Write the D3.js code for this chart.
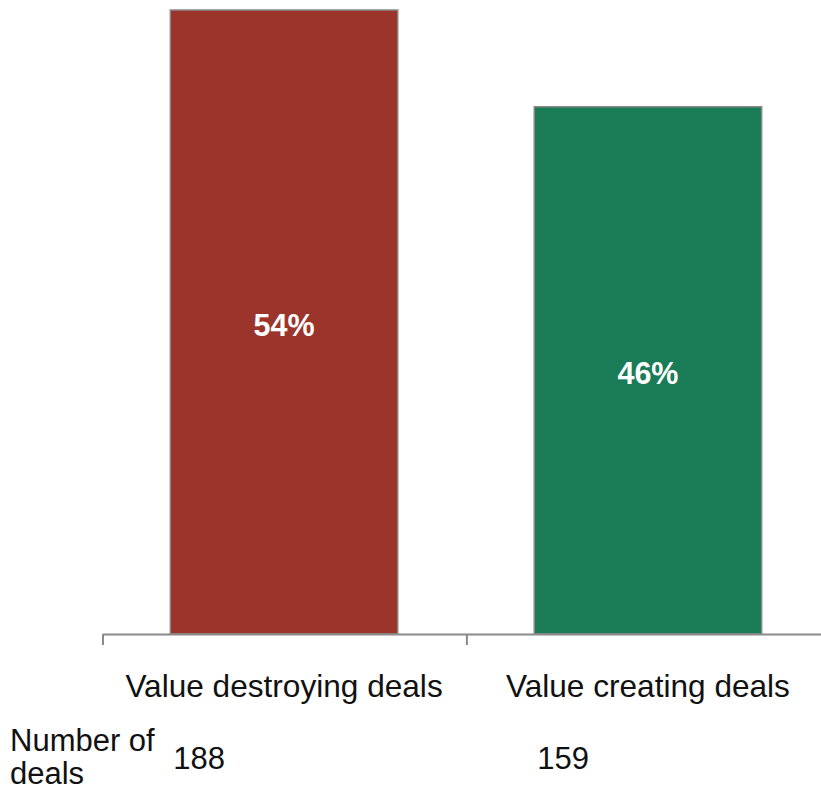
<!DOCTYPE html>
<html>
<head>
<meta charset="utf-8">
<script src="https://cdn.jsdelivr.net/npm/d3@7"></script>
<style>
  html, body { margin: 0; padding: 0; background: #fff; }
  svg { display: block; font-family: "Liberation Sans", Arial, sans-serif; }
</style>
</head>
<body>
<svg id="chart" width="821" height="791"></svg>
<script>
// Deal outcomes: share of deals (%) and deal counts per category
const categories = ["Value destroying deals", "Value creating deals"];
const shares = [54.2, 45.8];
const dealCounts = [188, 159];
const barColors = ["#9b342b", "#1a7b57"];
const rowLabel = ["Number of", "deals"];

const svg = d3.select("#chart");
const axisY = 634;
const topY = 10;

const x = d3.scaleBand()
  .domain(categories)
  .range([103, 829])
  .paddingInner(0.375)
  .paddingOuter(0.185);

const y = d3.scaleLinear()
  .domain([0, d3.max(shares)])
  .range([axisY, topY]);

const data = categories.map((c, i) => ({
  cat: c, share: shares[i], count: dealCounts[i], color: barColors[i]
}));

// Bars
svg.append("g").selectAll("rect")
  .data(data)
  .join("rect")
  .attr("x", d => x(d.cat))
  .attr("y", d => y(d.share))
  .attr("width", x.bandwidth())
  .attr("height", d => y(0) - y(d.share))
  .attr("fill", d => d.color)
  .attr("stroke", "#8a8a8a")
  .attr("stroke-width", 1.5);

// Category axis: baseline with ticks at band boundaries
const step = x.step();
const start = x.range()[0];
const axis = svg.append("g").attr("stroke", "#8a8a8a").attr("stroke-width", 2);
axis.append("line")
  .attr("x1", start).attr("x2", x.range()[1])
  .attr("y1", axisY + 0.5).attr("y2", axisY + 0.5);
axis.selectAll("line.tick")
  .data(d3.range(categories.length + 1))
  .join("line")
  .attr("class", "tick")
  .attr("x1", i => start + i * step).attr("x2", i => start + i * step)
  .attr("y1", axisY).attr("y2", axisY + 11);

// Category labels
svg.append("g").selectAll("text")
  .data(data)
  .join("text")
  .attr("x", d => x(d.cat) + x.bandwidth() / 2)
  .attr("y", 697)
  .attr("text-anchor", "middle")
  .attr("font-size", 31.6)
  .attr("fill", "#111")
  .text(d => d.cat);

// Percentage labels inside bars
const fmt = d3.format(".0f");
svg.append("g").selectAll("text")
  .data(data)
  .join("text")
  .attr("x", d => x(d.cat) + x.bandwidth() / 2)
  .attr("y", d => (y(d.share) + y(0)) / 2 + 14)
  .attr("text-anchor", "middle")
  .attr("font-size", 30.5)
  .attr("font-weight", "bold")
  .attr("fill", "#fff")
  .text(d => fmt(d.share) + "%");

// Row: number of deals
const row = svg.append("text")
  .attr("x", 10)
  .attr("font-size", 31)
  .attr("fill", "#111");
row.selectAll("tspan")
  .data(rowLabel)
  .join("tspan")
  .attr("x", 10)
  .attr("y", (d, i) => 751 + i * 33)
  .text(d => d);

svg.append("g").selectAll("text")
  .data(data)
  .join("text")
  .attr("x", d => x(d.cat) + 3)
  .attr("y", 769)
  .attr("font-size", 31)
  .attr("fill", "#111")
  .text(d => d.count);
</script>
</body>
</html>
